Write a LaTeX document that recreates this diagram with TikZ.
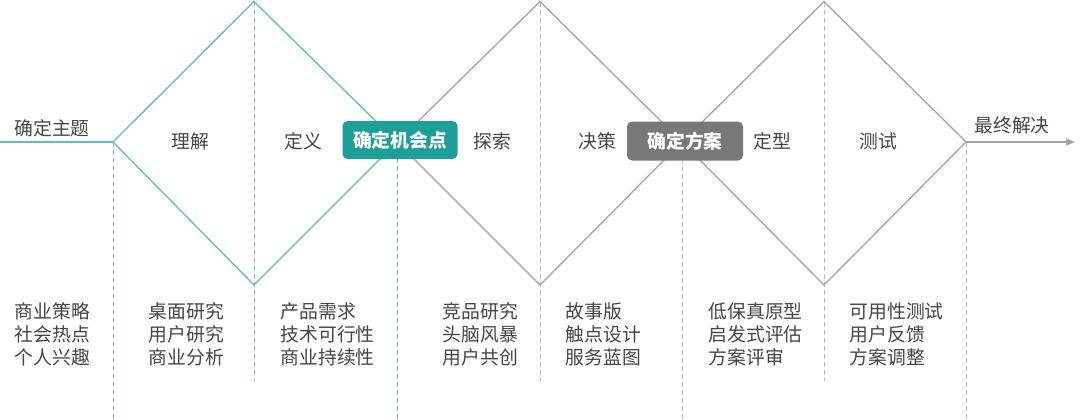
\documentclass[tikz,border=0pt]{standalone}
\usepackage{fontspec}
\setmainfont{Noto Sans CJK SC}
\usetikzlibrary{arrows.meta}
\definecolor{tealline}{HTML}{5CBFB1}
\definecolor{tealbox}{HTML}{1E9E99}
\definecolor{grayline}{HTML}{A3A3A3}
\definecolor{graybox}{HTML}{787878}
\definecolor{txtgray}{HTML}{454545}
\begin{document}
\begin{tikzpicture}[x=0.5pt, y=-0.5pt, line width=0.65pt,
  lbl/.style={text=txtgray, font=\fontsize{9.4}{11.5}\selectfont, inner sep=0pt},
  col/.style={lbl, anchor=west, align=left},
  keybox/.style={rounded corners=2.5pt, text=white, inner sep=0pt,
    font=\fontsize{9.4}{11}\selectfont\bfseries, minimum width=57.5pt, minimum height=19pt},
  tdash/.style={tealline!85, line width=0.5pt, dash pattern=on 2.5pt off 1.5pt},
  gdash/.style={grayline!75, line width=0.5pt, dash pattern=on 2.5pt off 1.5pt}]
  \useasboundingbox (0,0) rectangle (1080,419);
  % 菱形顶点
  \coordinate (s) at (0,142);
  \coordinate (l1) at (113,142);
  \coordinate (t1) at (254,1.5);
  \coordinate (b1) at (254,285);
  \coordinate (l2) at (397,142);
  \coordinate (t2) at (540,1.5);
  \coordinate (b2) at (540,285);
  \coordinate (l3) at (682,142);
  \coordinate (t3) at (824,1.5);
  \coordinate (b3) at (824,285);
  \coordinate (l4) at (966,142);
  \coordinate (e) at (1075,142);
  % 虚线
  \coordinate (d1) at (113,419);
  \coordinate (d2) at (254,381);
  \coordinate (d3) at (397,419);
  \coordinate (d4) at (540,381);
  \coordinate (d5) at (682,419);
  \coordinate (d6) at (824,381);
  \coordinate (d7) at (966,419);
  \draw[tdash] (l1) -- (d1);
  \draw[tdash] (t1) -- (d2);
  \draw[tdash] (l2) -- (d3);
  \draw[gdash] (t2) -- (d4);
  \draw[gdash] (l3) -- (d5);
  \draw[gdash] (t3) -- (d6);
  \draw[gdash] (l4) -- (d7);
  % 双钻石
  \draw[tealline] (s) -- (l1);
  \draw[tealline] (l1) -- (t1) -- (l2) -- (b1) -- cycle;
  \draw[grayline] (l2) -- (t2) -- (l3) -- (b2) -- cycle;
  \draw[grayline] (l3) -- (t3) -- (l4) -- (b3) -- cycle;
  \draw[grayline, -{Triangle[length=4.5pt, width=3.5pt]}] (l4) -- (e);
  % 关键节点
  \node[keybox, fill=tealbox] (chance) at (400,140) {确定机会点};
  \node[keybox, fill=graybox, minimum width=58pt, minimum height=19.5pt] (plan) at (685,141) {确定方案};
  % 阶段
  \node[lbl] (topic) at (52,128) {确定主题};
  \node[lbl] (understand) at (190,141) {理解};
  \node[lbl] (define) at (303,141) {定义};
  \node[lbl] (explore) at (492,141) {探索};
  \node[lbl] (decide) at (597,141) {决策};
  \node[lbl] (shape) at (772,141) {定型};
  \node[lbl] (test) at (878,141) {测试};
  \node[lbl] (final) at (1012,125) {最终解决};
  % 方法
  \node[col] (m1) at (14,334) {商业策略\\社会热点\\个人兴趣};
  \node[col] (m2) at (148,334) {桌面研究\\用户研究\\商业分析};
  \node[col] (m3) at (280,334) {产品需求\\技术可行性\\商业持续性};
  \node[col] (m4) at (442,334) {竞品研究\\头脑风暴\\用户共创};
  \node[col] (m5) at (565,334) {故事版\\触点设计\\服务蓝图};
  \node[col] (m6) at (708,334) {低保真原型\\启发式评估\\方案评审};
  \node[col] (m7) at (849,334) {可用性测试\\用户反馈\\方案调整};
\end{tikzpicture}
\end{document}
